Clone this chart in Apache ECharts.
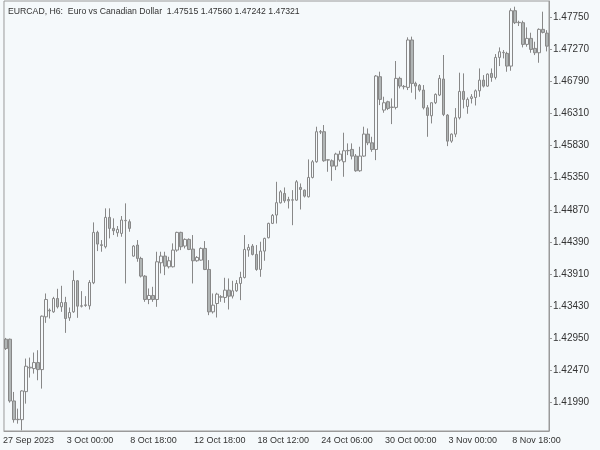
<!DOCTYPE html>
<html><head><meta charset="utf-8">
<script src="https://cdn.jsdelivr.net/npm/echarts@6/dist/echarts.min.js"></script>
<style>html,body{margin:0;padding:0;background:#f5f9fb}#c{width:600px;height:450px}</style>
</head><body><div id="c"></div>
<script>
const titleText = 'EURCAD, H6:  Euro vs Canadian Dollar  1.47515 1.47560 1.47242 1.47321';
const tickLabels = ['27 Sep 2023','3 Oct 00:00','8 Oct 18:00','12 Oct 18:00','18 Oct 12:00','24 Oct 06:00','30 Oct 00:00','3 Nov 00:00','8 Nov 18:00'];
const priceTicks = [1.41990,1.42470,1.42950,1.43430,1.43910,1.44390,1.44870,1.45350,1.45830,1.46310,1.46790,1.47270,1.47750];

const opens = [
1.42931,1.42931,1.42006,1.41726,1.41726,1.42146,1.42501,1.42491,1.42581,1.42476,
1.43266,1.43366,1.43341,1.43541,1.43416,1.43481,1.43251,1.43341,1.43806,1.43431,
1.43436,1.43431,1.43776,1.44531,1.44346,1.44316,1.44756,1.44591,1.44526,1.44516,
1.44706,1.44691,1.44176,1.44341,1.44141,1.43876,1.43526,1.43586,1.43526,1.44076,
1.44176,1.44016,1.44016,1.44266,1.44531,1.44326,1.44426,1.44281,1.44106,1.44116,
1.44291,1.43976,1.43341,1.43466,1.43566,1.43556,1.43666,1.43576,1.43656,1.43766,
1.43856,1.44266,1.44326,1.44201,1.43976,1.44251,1.44451,1.44666,1.44791,1.44974,
1.45114,1.45004,1.45014,1.45014,1.45204,1.45164,1.45064,1.45354,1.45589,1.46039,
1.46039,1.45614,1.45604,1.45524,1.45614,1.45589,1.45754,1.45774,1.45674,1.45454,
1.45674,1.46003,1.45873,1.45773,1.46863,1.46363,1.46488,1.46403,1.46403,1.46838,
1.46713,1.46703,1.47413,1.46763,1.46733,1.46663,1.46398,1.46278,1.46473,1.46588,
1.46828,1.46288,1.45898,1.46003,1.46248,1.46643,1.46418,1.46537,1.46552,1.46652,
1.46812,1.46722,1.46912,1.46852,1.47152,1.47222,1.47212,1.47022,1.47852,1.47672,
1.47672,1.47347,1.47437,1.47287,1.47222,1.47572,1.47515];
const closes = [
1.42791,1.42006,1.41726,1.41731,1.42156,1.42526,1.42511,1.42581,1.42476,1.43276,
1.43526,1.43356,1.43541,1.43416,1.43481,1.43241,1.43331,1.43811,1.43426,1.43426,
1.43446,1.43781,1.44531,1.44356,1.44336,1.44756,1.44591,1.44556,1.44576,1.44716,
1.44711,1.44591,1.44326,1.44141,1.43876,1.43526,1.43586,1.43526,1.44091,1.44176,
1.44026,1.44106,1.44266,1.44531,1.44316,1.44426,1.44276,1.44106,1.44156,1.44291,
1.43976,1.43341,1.43441,1.43606,1.43561,1.43666,1.43576,1.43656,1.43766,1.43856,
1.44276,1.44306,1.44201,1.43976,1.44251,1.44441,1.44666,1.44786,1.44976,1.45139,
1.45004,1.45024,1.45019,1.45289,1.45174,1.45074,1.45354,1.45589,1.46039,1.46034,
1.45604,1.45619,1.45524,1.45704,1.45704,1.45754,1.45759,1.45674,1.45454,1.45674,
1.46004,1.45873,1.45773,1.46873,1.46523,1.46473,1.46388,1.46408,1.46838,1.46723,
1.46718,1.47413,1.46763,1.46723,1.46663,1.46398,1.46283,1.46473,1.46598,1.46838,
1.46298,1.45898,1.46003,1.46248,1.46643,1.46523,1.46523,1.46562,1.46652,1.46812,
1.46722,1.46902,1.46852,1.47152,1.47237,1.47227,1.47022,1.47852,1.47672,1.47677,
1.47347,1.47437,1.47272,1.47222,1.47572,1.47527,1.47321];
const highs = [
1.42950,1.42940,1.42141,1.41891,1.42166,1.42641,1.42656,1.42731,1.42766,1.43286,
1.43616,1.43391,1.43566,1.43686,1.43731,1.43566,1.43406,1.43961,1.43816,1.43651,
1.43576,1.43816,1.44681,1.44556,1.44416,1.44891,1.44891,1.44741,1.44626,1.44776,
1.44966,1.44726,1.44341,1.44416,1.44166,1.43891,1.43691,1.43716,1.44241,1.44241,
1.44241,1.44166,1.44366,1.44541,1.44541,1.44441,1.44441,1.44491,1.44176,1.44306,
1.44401,1.44116,1.43616,1.43626,1.43591,1.43851,1.43841,1.43806,1.43816,1.43941,
1.44491,1.44356,1.44356,1.44341,1.44391,1.44451,1.44676,1.44806,1.45289,1.45164,
1.45204,1.45064,1.45164,1.45314,1.45264,1.45174,1.45624,1.45614,1.46114,1.46064,
1.46139,1.45624,1.45624,1.45724,1.45754,1.46024,1.45864,1.45864,1.45704,1.45814,
1.46114,1.46088,1.45963,1.46888,1.46938,1.46563,1.46503,1.46538,1.47098,1.46863,
1.46738,1.47453,1.47463,1.46788,1.46753,1.46738,1.46438,1.46478,1.46613,1.46888,
1.47188,1.46303,1.46013,1.46393,1.46923,1.46913,1.46552,1.46602,1.46672,1.46987,
1.46887,1.46912,1.46987,1.47202,1.47302,1.47262,1.47237,1.47887,1.47912,1.47702,
1.47702,1.47602,1.47522,1.47387,1.47587,1.47837,1.47560];
const lows = [
1.42770,1.41981,1.41681,1.41666,1.41566,1.41966,1.42356,1.42416,1.42316,1.42191,
1.43176,1.43241,1.43326,1.43391,1.43341,1.43026,1.43206,1.43326,1.43251,1.43406,
1.43416,1.43376,1.43756,1.44251,1.44241,1.44291,1.44441,1.44491,1.44466,1.44466,
1.43766,1.44541,1.44166,1.44091,1.43856,1.43491,1.43456,1.43491,1.43416,1.43916,
1.43891,1.43991,1.44006,1.44241,1.44266,1.44291,1.44266,1.43766,1.44091,1.44106,
1.43966,1.43291,1.43316,1.43256,1.43491,1.43476,1.43376,1.43541,1.43641,1.43516,
1.43841,1.44166,1.44186,1.43956,1.43866,1.44106,1.44441,1.44656,1.44664,1.44964,
1.44974,1.44889,1.44639,1.45004,1.44874,1.45054,1.45054,1.45339,1.45574,1.46004,
1.45589,1.45439,1.45304,1.45464,1.45589,1.45364,1.45689,1.45624,1.45439,1.45439,
1.45664,1.45838,1.45738,1.45613,1.46438,1.46323,1.46363,1.46153,1.46373,1.46688,
1.46673,1.46663,1.46623,1.46523,1.46638,1.46373,1.45963,1.46163,1.46453,1.46573,
1.46273,1.45823,1.45873,1.45958,1.46223,1.46388,1.46308,1.46462,1.46432,1.46562,
1.46702,1.46712,1.46787,1.46822,1.47022,1.47137,1.46937,1.46952,1.47652,1.47622,
1.47302,1.47312,1.47222,1.47187,1.47072,1.47512,1.47242];

const categories = opens.map((v, i) => (i % 16 === 0 && tickLabels[i / 16]) ? tickLabels[i / 16] : String(i));
const ohlc = opens.map((o, i) => [o, closes[i], lows[i], highs[i]]);
const showTick = (i) => i % 16 === 0;

const chart = echarts.init(document.getElementById('c'), null, {renderer: 'canvas'});
const font = 'Liberation Sans';
chart.setOption({
  animation: false,
  backgroundColor: '#f5f9fb',
  title: {
    text: titleText, left: 3, top: 2,
    textStyle: {fontFamily: font, fontSize: 8.7, fontWeight: 'normal', color: '#333'}
  },
  grid: {left: 0, top: 1, width: 549, height: 430, show: true, borderColor: '#9a9a9a', borderWidth: 1, backgroundColor: 'transparent'},
  xAxis: {
    type: 'category', data: categories, boundaryGap: true,
    axisLine: {lineStyle: {color: '#9a9a9a', width: 1}},
    axisTick: {interval: (i) => showTick(i), alignWithLabel: true, length: 3, lineStyle: {color: '#9a9a9a'}},
    axisLabel: {interval: (i) => showTick(i), align: 'left', margin: 5, padding: [0, 0, 0, -3], fontFamily: font, fontSize: 9, color: '#333'},
    splitLine: {show: false}
  },
  yAxis: {
    type: 'value', position: 'right', min: 1.41556, max: 1.47997, scale: true,
    axisLine: {show: true, lineStyle: {color: '#9a9a9a', width: 1}},
    axisTick: {show: true, length: 3, customValues: priceTicks, lineStyle: {color: '#9a9a9a'}},
    axisLabel: {customValues: priceTicks, margin: 4, formatter: (v) => v.toFixed(5), fontFamily: font, fontSize: 10, color: '#333'},
    splitLine: {show: false}
  },
  series: [{
    type: 'candlestick', data: ohlc, barWidth: 3,
    itemStyle: {color: '#f5f9fb', color0: '#b0b5b5', borderColor: '#888888', borderColor0: '#888888', borderWidth: 1}
  }]
});
</script></body></html>
